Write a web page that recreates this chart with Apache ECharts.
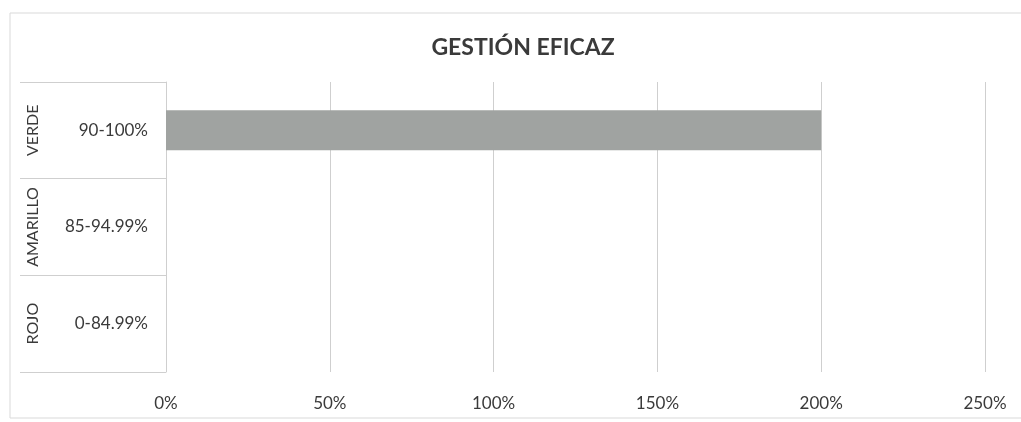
<!DOCTYPE html>
<html>
<head>
<meta charset="utf-8">
<script src="https://cdn.jsdelivr.net/npm/echarts@6/dist/echarts.min.js"></script>
<style>html,body{margin:0;padding:0;background:#fff;}#c{width:1021px;height:422px;}</style>
</head>
<body>
<div id="c"></div>
<script>
const title = 'GESTIÓN EFICAZ';
const groups = ['VERDE', 'AMARILLO', 'ROJO'];
const ranges = ['90-100%', '85-94.99%', '0-84.99%'];
const values = [200, 0, 0];
const xTicks = [0, 50, 100, 150, 200, 250];

const FONT = 'Lato';
const chart = echarts.init(document.getElementById('c'));
chart.setOption({
  animation: false,
  backgroundColor: '#ffffff',
  textStyle: { fontFamily: FONT },
  title: {
    text: title, left: 518, textAlign: 'center', top: 31,
    textStyle: { fontFamily: FONT, fontWeight: 'bold', fontSize: 23, color: '#3a3a3a' }
  },
  graphic: [{
    type: 'rect', shape: { x: 10, y: 13, width: 1030, height: 405 },
    style: { fill: 'none', stroke: '#d9d9d9', lineWidth: 1 }, silent: true, z: -1
  }],
  grid: { left: 166, right: 36, top: 82, bottom: 50 },
  xAxis: {
    type: 'value', min: xTicks[0], max: xTicks[xTicks.length - 1], interval: 50,
    axisLine: { show: false },
    axisTick: { show: false },
    splitLine: { show: true, lineStyle: { color: '#cfcfcf', width: 1 } },
    axisLabel: { formatter: v => v + '%', fontSize: 17, color: '#3a3a3a', margin: 23, fontFamily: FONT }
  },
  yAxis: [{
    type: 'category', data: ranges, inverse: true,
    axisLine: { show: true, lineStyle: { color: '#cfcfcf' } },
    axisTick: { show: true, length: 146, lineStyle: { color: '#cfcfcf' } },
    axisLabel: { interval: 0, fontSize: 17, color: '#3a3a3a', margin: 18, fontFamily: FONT }
  }, {
    type: 'category', data: groups, inverse: true, position: 'left',
    axisLine: { show: false }, axisTick: { show: false },
    axisLabel: { interval: 0, hideOverlap: false, rotate: 90, fontSize: 16, color: '#3a3a3a', margin: 133, align: 'center', verticalAlign: 'middle', fontFamily: FONT }
  }],
  series: [{
    type: 'bar', data: values, yAxisIndex: 0, barWidth: 40,
    itemStyle: { color: '#a0a3a1' }
  }, {
    type: 'bar', data: [], yAxisIndex: 1
  }]
});
</script>
</body>
</html>
